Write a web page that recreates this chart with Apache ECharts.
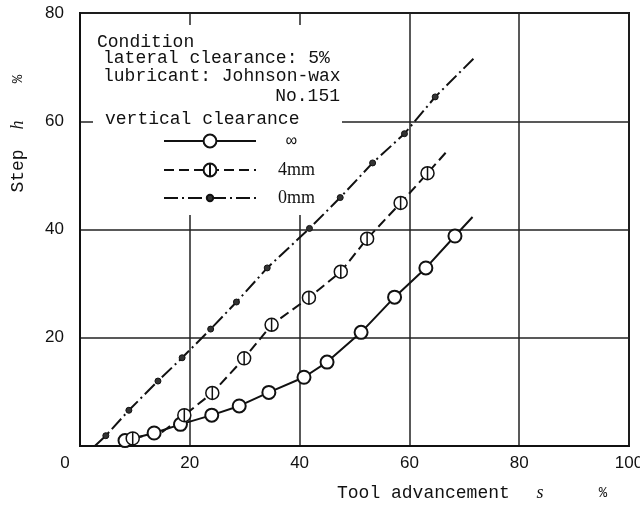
<!DOCTYPE html>
<html>
<head>
<meta charset="utf-8">
<script src="https://cdn.jsdelivr.net/npm/echarts@6/dist/echarts.min.js"></script>
<style>
  html, body { margin: 0; padding: 0; background: #fff; }
  #chart { width: 640px; height: 506px; }
</style>
</head>
<body>
<div id="chart"></div>
<script>
// vertical clearance = ∞ (open circles)
const xInf = [8.2, 13.5, 18.3, 24.0, 29.0, 34.4, 40.8, 45.0, 51.2, 57.3, 63.0, 68.3, 71.5]
const yInf = [1.0, 2.4, 4.0, 5.7, 7.4, 9.9, 12.7, 15.5, 21.0, 27.5, 32.9, 38.8, 42.3]
const lineOnlyInf = [12]

// vertical clearance = 4mm (circles with a bar)
const x4 = [9.6, 15.0, 19.0, 24.1, 29.9, 34.9, 41.7, 47.5, 52.3, 58.4, 63.3, 66.7]
const y4 = [1.4, 2.6, 5.7, 9.8, 16.2, 22.4, 27.4, 32.2, 38.3, 44.9, 50.4, 54.3]
const lineOnly4 = [1, 11]

// vertical clearance = 0mm (small dots)
const x0 = [2.7, 4.7, 8.9, 14.2, 18.6, 23.8, 28.5, 34.1, 41.8, 47.4, 53.3, 59.1, 64.7, 71.8]
const y0 = [0, 1.9, 6.6, 12.0, 16.3, 21.6, 26.6, 32.9, 40.2, 45.9, 52.3, 57.7, 64.5, 71.7]
const lineOnly0 = [0, 13]

const seriesNames = ['∞', '4mm', '0mm']
const xTicks = [0, 20, 40, 60, 80, 100]
const yTicks = [0, 20, 40, 60, 80]

const conditionLines = ['Condition', 'lateral clearance: 5%', 'lubricant: Johnson-wax', 'No.151', 'vertical clearance']

const mono = "'Liberation Mono', 'DejaVu Sans Mono', monospace"
const ink = '#111'

function points(xs, ys, lineOnly) {
  return xs.map((x, i) => {
    const item = { value: [x, ys[i]] }
    if (lineOnly.includes(i)) item.symbol = 'none'
    return item
  })
}

const barCircle = 'path://M10 0 A10 10 0 1 1 10 20 A10 10 0 1 1 10 0 Z M10 0 L10 20'

const legendText = {
  color: ink, fontFamily: "'Liberation Serif', serif", fontSize: 18, padding: [0, 0, 0, 17],
  rich: { a: { fontFamily: mono, fontSize: 18, color: ink, padding: [0, 0, 0, 8] } }
}

const chart = echarts.init(document.getElementById('chart'))
const option = {
  animation: false,
  backgroundColor: '#fff',
  grid: {
    left: 80, right: 11, top: 13, bottom: 60, containLabel: false, outerBoundsMode: 'none',
    show: true, borderColor: ink, borderWidth: 2
  },
  xAxis: {
    type: 'value', min: xTicks[0], max: xTicks[xTicks.length - 1], interval: 20,
    axisLine: { show: true, lineStyle: { color: ink, width: 2 } },
    axisTick: { show: false },
    splitLine: { lineStyle: { color: '#222', width: 1.5 } },
    axisLabel: {
      margin: 9, color: ink, fontFamily: "'Liberation Sans', Arial, sans-serif", fontSize: 17,
      formatter: v => v === 0 ? '{z|0}' : String(v),
      rich: { z: { padding: [0, 30, 0, 0], fontFamily: "'Liberation Sans', Arial, sans-serif", fontSize: 17, color: ink } }
    }
  },
  yAxis: {
    type: 'value', min: yTicks[0], max: yTicks[yTicks.length - 1], interval: 20,
    axisLine: { show: true, lineStyle: { color: ink, width: 2 } },
    axisTick: { show: false },
    splitLine: { lineStyle: { color: '#222', width: 1.5 } },
    axisLabel: {
      margin: 16, color: ink, fontFamily: "'Liberation Sans', Arial, sans-serif", fontSize: 17,
      formatter: v => v === 0 ? '' : String(v)
    }
  },
  legend: [
    {
      orient: 'vertical', left: 163, top: 132, padding: 0, itemWidth: 92, itemHeight: 16, itemGap: 11,
      selectedMode: false,
      data: seriesNames.slice(0, 2),
      formatter: name => name === '∞' ? '{a|∞}' : name,
      textStyle: legendText
    },
    {
      orient: 'vertical', left: 163, top: 189, padding: 0, itemWidth: 92, itemHeight: 8,
      selectedMode: false,
      data: seriesNames.slice(2),
      textStyle: legendText
    }
  ],
  graphic: [
    { type: 'rect', z: 1, shape: { x: 93, y: 25, width: 249, height: 190 }, style: { fill: '#fff' } },
    { type: 'text', z: 5, x: 97, y: 42, style: { text: conditionLines[0], font: '18px ' + mono, fill: ink, verticalAlign: 'middle' } },
    { type: 'text', z: 5, x: 103, y: 58, style: { text: conditionLines[1], font: '18px ' + mono, fill: ink, verticalAlign: 'middle' } },
    { type: 'text', z: 5, x: 103, y: 76, style: { text: conditionLines[2], font: '18px ' + mono, fill: ink, verticalAlign: 'middle' } },
    { type: 'text', z: 5, x: 340, y: 96, style: { text: conditionLines[3], font: '18px ' + mono, fill: ink, align: 'right', verticalAlign: 'middle' } },
    { type: 'text', z: 5, x: 105, y: 119, style: { text: conditionLines[4], font: '18px ' + mono, fill: ink, verticalAlign: 'middle' } },
    // x axis title
    { type: 'text', z: 5, x: 337, y: 493, style: { text: 'Tool advancement', font: '18px ' + mono, fill: ink, verticalAlign: 'middle' } },
    { type: 'text', z: 5, x: 540, y: 493, style: { text: 's', font: 'italic 18px "Liberation Serif", serif', fill: ink, align: 'center', verticalAlign: 'middle' } },
    { type: 'text', z: 5, x: 603, y: 493, style: { text: '%', font: '14px ' + mono, fill: ink, align: 'center', verticalAlign: 'middle' } },
    // y axis title
    { type: 'text', z: 5, x: 18, y: 171, rotation: Math.PI / 2, style: { text: 'Step', font: '18px ' + mono, fill: ink, align: 'center', verticalAlign: 'middle' } },
    { type: 'text', z: 5, x: 18, y: 125, rotation: Math.PI / 2, style: { text: 'h', font: 'italic 18px "Liberation Serif", serif', fill: ink, align: 'center', verticalAlign: 'middle' } },
    { type: 'text', z: 5, x: 18, y: 79, rotation: Math.PI / 2, style: { text: '%', font: '14px ' + mono, fill: ink, align: 'center', verticalAlign: 'middle' } }
  ],
  series: [
    {
      name: seriesNames[0], type: 'line', z: 3,
      data: points(xInf, yInf, lineOnlyInf),
      symbol: 'emptyCircle', symbolSize: 13,
      lineStyle: { color: ink, width: 2 },
      itemStyle: { color: ink, borderColor: ink, borderWidth: 1.5 }
    },
    {
      name: seriesNames[1], type: 'line', z: 3,
      data: points(x4, y4, lineOnly4),
      symbol: barCircle, symbolSize: 13, symbolKeepAspect: true,
      lineStyle: { color: ink, width: 2, type: [10, 5] },
      itemStyle: { color: '#fff', borderColor: ink, borderWidth: 1.5 }
    },
    {
      name: seriesNames[2], type: 'line', z: 3,
      data: points(x0, y0, lineOnly0),
      symbol: 'circle', symbolSize: 6,
      lineStyle: { color: ink, width: 2, type: [14, 4, 2, 4] },
      itemStyle: { color: '#333', borderColor: ink, borderWidth: 1 }
    }
  ]
}
chart.setOption(option)

window.addEventListener('resize', () => {
  chart.resize()
})
</script>
</body>
</html>
